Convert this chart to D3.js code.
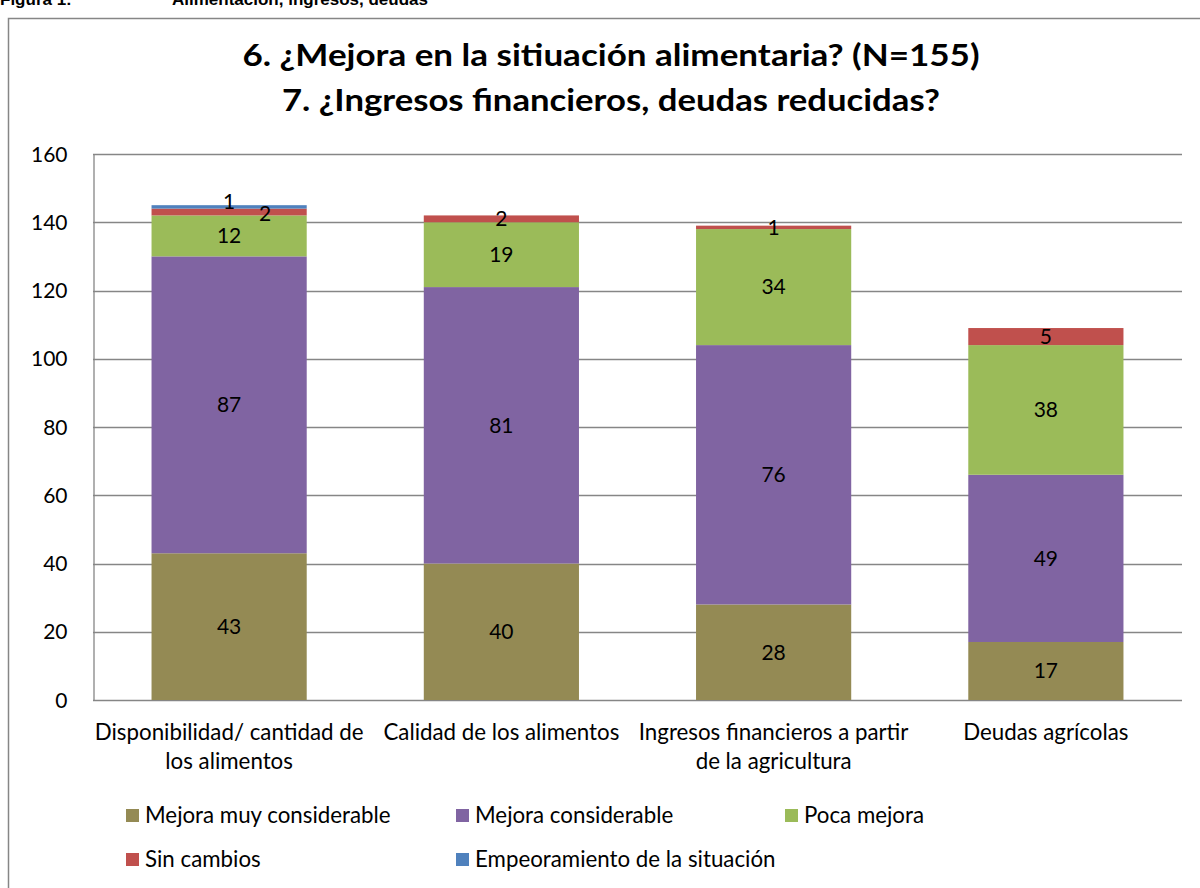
<!DOCTYPE html>
<html>
<head>
<meta charset="utf-8">
<script src="https://cdn.jsdelivr.net/npm/d3@7"></script>
<style>
  body, html { margin: 0; padding: 0; background: #fff; }
  svg { display: block; }
  text { font-family: Lato, "Open Sans", sans-serif; }
</style>
</head>
<body>
<svg width="1200" height="888"></svg>
<script>
  // data
  var categories = [
    ['Disponibilidad/ cantidad de', 'los alimentos'],
    ['Calidad de los alimentos'],
    ['Ingresos financieros a partir', 'de la agricultura'],
    ['Deudas agrícolas']
  ];
  var seriesNames = ['Mejora muy considerable', 'Mejora considerable', 'Poca mejora',
                     'Sin cambios', 'Empeoramiento de la situación'];
  var muyConsiderable = [43, 40, 28, 17];
  var considerable = [87, 81, 76, 49];
  var pocaMejora = [12, 19, 34, 38];
  var sinCambios = [2, 2, 1, 5];
  var empeoramiento = [1, 0, 0, 0];
  var yTicks = [0, 20, 40, 60, 80, 100, 120, 140, 160];
  var colors = ['#948A54', '#8064A2', '#9BBB59', '#C0504D', '#4F81BD'];

  var svg = d3.select('svg');

  // page header (cut off at top) and chart frame
  svg.append('text').attr('x', 0).attr('y', 5)
    .style('font-family', 'Liberation Sans, Arial, sans-serif')
    .style('font-weight', 'bold').style('font-size', '17px')
    .text('Figura 1:');
  svg.append('text').attr('x', 172).attr('y', 5)
    .style('font-family', 'Liberation Sans, Arial, sans-serif')
    .style('font-weight', 'bold').style('font-size', '17px')
    .text('Alimentación, ingresos, deudas');
  svg.append('rect').attr('x', 8.5).attr('y', 18.5).attr('width', 1300).attr('height', 1000)
    .attr('fill', 'none').attr('stroke', '#868686').attr('stroke-width', 1.5);

  // title
  var title = svg.append('text').attr('text-anchor', 'middle')
    .style('font-weight', 'bold').style('font-size', '30px');
  title.append('tspan').attr('x', 611).attr('y', 66)
    .attr('textLength', 737).attr('lengthAdjust', 'spacingAndGlyphs')
    .text('6. ¿Mejora en la sitiuación alimentaria? (N=155)');
  title.append('tspan').attr('x', 611).attr('y', 111)
    .attr('textLength', 658).attr('lengthAdjust', 'spacingAndGlyphs')
    .text('7. ¿Ingresos financieros, deudas reducidas?');

  var plotLeft = 93, plotRight = 1182, plotTop = 154, plotBottom = 700;

  var x = d3.scaleBand().domain(d3.range(categories.length))
    .range([plotLeft, plotRight]).paddingInner(0.43).paddingOuter(0.215);
  var y = d3.scaleLinear().domain([0, 160]).range([plotBottom, plotTop]);

  // gridlines
  svg.append('g').selectAll('line').data(yTicks).enter().append('line')
    .attr('x1', plotLeft).attr('x2', plotRight)
    .attr('y1', function (d) { return Math.round(y(d)) + 0.5; })
    .attr('y2', function (d) { return Math.round(y(d)) + 0.5; })
    .attr('stroke', '#868686').attr('stroke-width', 1.3);

  // y axis
  var yAxis = svg.append('g').attr('transform', 'translate(' + (plotLeft + 0.5) + ',0.5)')
    .call(d3.axisLeft(y).tickValues(yTicks).tickSize(0).tickPadding(26));
  yAxis.select('.domain').attr('stroke', '#868686').attr('stroke-width', 1.3);
  yAxis.selectAll('text').style('font-size', '21px').attr('fill', '#000')
    .style('font-family', 'Lato, sans-serif');

  // stacked bars
  var rows = categories.map(function (c, i) {
    return [muyConsiderable[i], considerable[i], pocaMejora[i], sinCambios[i], empeoramiento[i]];
  });
  var stack = d3.stack().keys(d3.range(seriesNames.length))
    .value(function (d, k) { return d[k]; });
  var layers = stack(rows);

  var layerG = svg.append('g').selectAll('g').data(layers).enter().append('g')
    .attr('fill', function (d, i) { return colors[i]; });
  layerG.selectAll('rect').data(function (d) { return d; }).enter().append('rect')
    .attr('x', function (d, i) { return x(i); })
    .attr('width', x.bandwidth())
    .attr('y', function (d) { return y(d[1]); })
    .attr('height', function (d) { return y(d[0]) - y(d[1]); });

  // value labels (topmost small label centred and nudged up, the one below pushed right)
  var labelG = svg.append('g').style('font-size', '21px').attr('text-anchor', 'middle');
  categories.forEach(function (c, i) {
    var prevSmallTop = null;
    for (var k = layers.length - 1; k >= 0; k--) {
      var seg = layers[k][i];
      var v = seg[1] - seg[0];
      if (!v) continue;
      var cy = y((seg[0] + seg[1]) / 2);
      var cx = x(i) + x.bandwidth() / 2;
      var h = y(seg[0]) - y(seg[1]);
      var small = h < 16;
      var next = layers[k - 1] && layers[k - 1][i];
      var nextSmall = next && (y(next[0]) - y(next[1])) < 16 && (next[1] - next[0]) > 0;
      if (small && prevSmallTop !== null && Math.abs(prevSmallTop - cy) < 16) { cx += 36; cy += 2; }
      else if (small && nextSmall) cy -= 5;
      if (small) prevSmallTop = cy;
      labelG.append('text').attr('x', cx).attr('y', cy).attr('dy', '0.35em')
        .text(v);
    }
  });

  // category labels
  var catG = svg.append('g').style('font-size', '22.3px').attr('text-anchor', 'middle');
  categories.forEach(function (lines, i) {
    var t = catG.append('text');
    lines.forEach(function (ln, j) {
      t.append('tspan').attr('x', x(i) + x.bandwidth() / 2).attr('y', 740 + j * 29).text(ln);
    });
  });

  // legend
  var legX = [126, 456, 785];
  var legY = [815, 859];
  var legend = svg.append('g').style('font-size', '22.3px');
  seriesNames.forEach(function (name, i) {
    var lx = legX[i % 3], ly = legY[Math.floor(i / 3)];
    legend.append('rect').attr('x', lx).attr('y', ly - 6).attr('width', 13).attr('height', 13)
      .attr('fill', colors[i]);
    legend.append('text').attr('x', lx + 19).attr('y', ly).attr('dy', '0.35em').text(name);
  });
</script>
</body>
</html>
